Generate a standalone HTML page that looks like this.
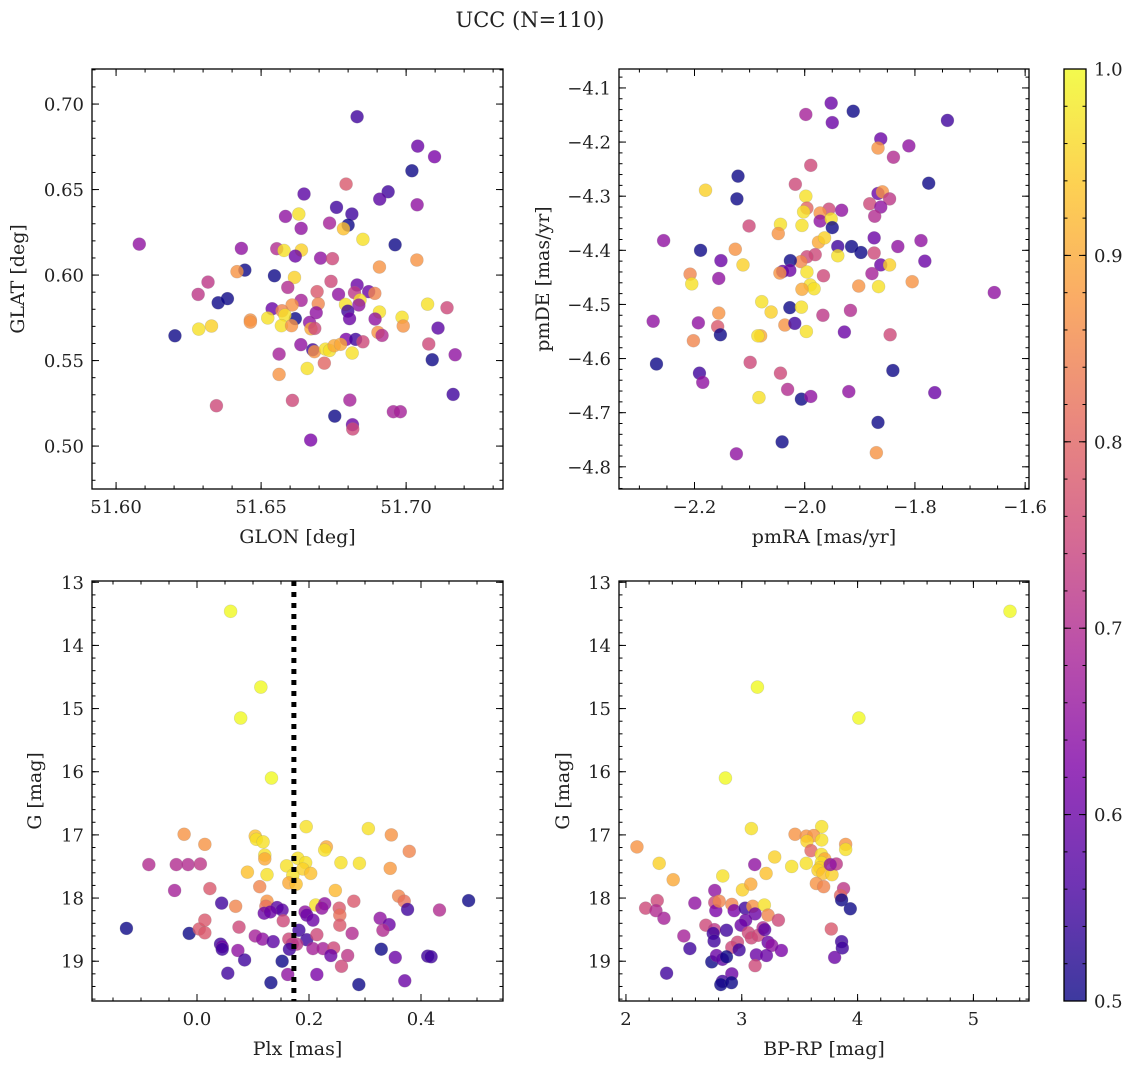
<!DOCTYPE html>
<html><head><meta charset="utf-8"><title>UCC (N=110)</title>
<style>
html,body{margin:0;padding:0;background:#fff;}
svg{display:block;font-family:"DejaVu Serif","Liberation Serif",serif;}
</style></head>
<body>
<svg id="chart" width="1136" height="1068" viewBox="0 0 1136 1068" xmlns="http://www.w3.org/2000/svg">
<defs>
<linearGradient id="plasma" x1="0" y1="1" x2="0" y2="0">
<stop offset="0" stop-color="#0d0887"/><stop offset="0.125" stop-color="#4c02a1"/>
<stop offset="0.25" stop-color="#7e03a8"/><stop offset="0.375" stop-color="#a92395"/>
<stop offset="0.5" stop-color="#cc4778"/><stop offset="0.625" stop-color="#e56b5d"/>
<stop offset="0.75" stop-color="#f89540"/><stop offset="0.875" stop-color="#fdc527"/>
<stop offset="1" stop-color="#f0f921"/></linearGradient>
</defs>
<text x="530" y="27" font-size="21" text-anchor="middle" fill="#222">UCC (N=110)</text>
</svg>
<script>
// ---- Panel 1: GLON vs GLAT ----
const glonP1 = [51.6831,51.7040,51.7098,51.7020,51.6793,51.6648,51.6938,51.6909,51.7038,51.6760,51.6813,51.6584,51.6630,51.6800,51.6784,51.6736,51.6638,51.6851,51.6962,51.6080,51.6432,51.6554,51.6579,51.6639,51.6618,51.6705,51.6746,51.7037,51.6908,51.6444,51.6417,51.6546,51.6615,51.6317,51.6283,51.6592,51.6741,51.6831,51.6693,51.6767,51.6822,51.6871,51.6892,51.6352,51.6384,51.6638,51.6697,51.6607,51.6791,51.6841,51.6837,51.7074,51.7141,51.6538,51.6572,51.6690,51.6799,51.6908,51.6893,51.6805,51.6618,51.6582,51.6523,51.6986,51.6463,51.6463,51.6570,51.6605,51.6667,51.6672,51.6685,51.6990,51.7110,51.6285,51.6329,51.6203,51.6903,51.6917,51.6793,51.6826,51.6851,51.6637,51.6678,51.6684,51.6722,51.6736,51.6752,51.6774,51.6814,51.7078,51.6562,51.7090,51.7169,51.6718,51.6659,51.6562,51.7162,51.6608,51.6806,51.6346,51.6956,51.6980,51.6754,51.6815,51.6816,51.6671];
const glatP1 = [0.6926,0.6754,0.6692,0.6610,0.6532,0.6474,0.6487,0.6444,0.6411,0.6396,0.6357,0.6343,0.6357,0.6292,0.6271,0.6304,0.6273,0.6209,0.6177,0.6181,0.6156,0.6154,0.6144,0.6146,0.6111,0.6099,0.6096,0.6088,0.6047,0.6029,0.6020,0.5996,0.5986,0.5959,0.5887,0.5928,0.5963,0.5942,0.5903,0.5887,0.5897,0.5903,0.5893,0.5838,0.5862,0.5852,0.5832,0.5825,0.5828,0.5854,0.5825,0.5830,0.5809,0.5803,0.5791,0.5780,0.5789,0.5784,0.5743,0.5745,0.5745,0.5766,0.5749,0.5753,0.5737,0.5725,0.5704,0.5704,0.5723,0.5686,0.5688,0.5702,0.5690,0.5684,0.5702,0.5645,0.5665,0.5647,0.5624,0.5624,0.5610,0.5593,0.5563,0.5552,0.5567,0.5559,0.5587,0.5595,0.5544,0.5597,0.5538,0.5505,0.5534,0.5485,0.5454,0.5419,0.5302,0.5267,0.5269,0.5236,0.5201,0.5201,0.5175,0.5125,0.5100,0.5035];
const probP1 = [0.55,0.6,0.62,0.5,0.78,0.58,0.55,0.58,0.65,0.55,0.55,0.65,0.97,0.5,0.93,0.68,0.65,0.97,0.5,0.65,0.65,0.7,0.97,0.95,0.6,0.65,0.75,0.87,0.87,0.5,0.87,0.5,0.95,0.72,0.72,0.7,0.75,0.6,0.78,0.65,0.72,0.6,0.85,0.5,0.5,0.68,0.85,0.87,0.97,0.97,0.65,0.97,0.75,0.6,0.85,0.65,0.55,0.97,0.65,0.6,0.5,0.97,0.97,0.97,0.87,0.87,0.97,0.87,0.65,0.9,0.75,0.87,0.58,0.97,0.95,0.5,0.87,0.7,0.62,0.55,0.75,0.65,0.55,0.87,0.97,0.97,0.9,0.9,0.97,0.75,0.68,0.5,0.65,0.8,0.97,0.87,0.55,0.75,0.68,0.75,0.68,0.68,0.5,0.6,0.75,0.62];

// ---- Panel 2: pmRA vs pmDE ----
const pmraP2 = [-1.952,-1.998,-1.950,-1.912,-1.741,-1.862,-1.867,-1.811,-1.839,-1.989,-2.121,-1.775,-2.180,-2.017,-2.123,-1.998,-1.867,-1.859,-1.846,-1.996,-2.002,-1.956,-1.972,-1.972,-1.952,-1.933,-1.882,-1.862,-1.873,-1.950,-2.005,-2.044,-2.048,-2.101,-2.256,-2.189,-2.126,-2.152,-2.112,-2.156,-2.208,-2.205,-1.975,-1.964,-1.940,-1.915,-1.898,-1.874,-1.874,-1.831,-1.789,-1.782,-1.862,-1.846,-1.981,-1.996,-2.007,-1.940,-2.026,-2.027,-2.040,-2.045,-1.996,-1.966,-1.878,-1.990,-1.983,-2.005,-1.902,-1.866,-1.805,-1.656,-2.078,-2.061,-2.027,-2.006,-1.967,-1.917,-2.156,-2.193,-2.275,-2.158,-2.153,-2.202,-2.036,-2.018,-1.997,-2.080,-2.085,-1.928,-1.845,-2.269,-2.191,-2.185,-2.099,-2.044,-2.031,-2.083,-2.006,-1.989,-1.920,-1.840,-1.764,-1.867,-2.041,-2.124,-1.870];
const pmdeP2 = [-4.128,-4.149,-4.164,-4.143,-4.160,-4.194,-4.211,-4.207,-4.228,-4.243,-4.263,-4.276,-4.289,-4.278,-4.305,-4.300,-4.295,-4.292,-4.305,-4.322,-4.329,-4.324,-4.331,-4.346,-4.342,-4.326,-4.314,-4.320,-4.337,-4.358,-4.354,-4.352,-4.369,-4.355,-4.382,-4.400,-4.398,-4.419,-4.427,-4.452,-4.444,-4.462,-4.385,-4.377,-4.393,-4.393,-4.404,-4.377,-4.405,-4.393,-4.382,-4.420,-4.427,-4.427,-4.408,-4.412,-4.421,-4.410,-4.419,-4.437,-4.439,-4.442,-4.440,-4.447,-4.443,-4.464,-4.471,-4.472,-4.466,-4.467,-4.458,-4.478,-4.495,-4.514,-4.506,-4.505,-4.520,-4.511,-4.516,-4.534,-4.531,-4.541,-4.556,-4.567,-4.538,-4.535,-4.550,-4.558,-4.558,-4.551,-4.556,-4.610,-4.627,-4.644,-4.607,-4.627,-4.657,-4.672,-4.675,-4.670,-4.661,-4.622,-4.663,-4.718,-4.754,-4.776,-4.774];
const probP2 = [0.6,0.68,0.6,0.5,0.55,0.6,0.87,0.65,0.7,0.75,0.5,0.5,0.95,0.75,0.5,0.97,0.6,0.87,0.72,0.8,0.97,0.75,0.87,0.65,0.97,0.65,0.75,0.65,0.7,0.5,0.97,0.97,0.87,0.75,0.65,0.5,0.87,0.6,0.95,0.65,0.85,0.97,0.9,0.95,0.55,0.5,0.5,0.6,0.75,0.65,0.65,0.6,0.6,0.95,0.75,0.75,0.85,0.97,0.5,0.6,0.6,0.87,0.97,0.75,0.68,0.97,0.97,0.9,0.87,0.97,0.87,0.65,0.97,0.95,0.5,0.97,0.72,0.7,0.87,0.65,0.65,0.78,0.5,0.85,0.87,0.55,0.97,0.9,0.97,0.6,0.75,0.5,0.55,0.65,0.75,0.75,0.7,0.97,0.5,0.65,0.65,0.5,0.6,0.5,0.5,0.65,0.87];

// ---- Panel 3: Plx vs G ----
const plxP3 = [0.060,0.114,0.078,0.133,0.195,0.306,-0.023,0.347,0.014,0.104,0.106,0.118,0.231,0.228,0.379,-0.086,-0.037,-0.016,0.006,0.121,0.121,0.160,0.180,0.194,0.189,0.203,0.257,0.290,0.345,0.090,0.125,0.171,0.164,0.177,0.112,0.247,-0.040,0.023,0.360,0.370,0.485,0.044,0.069,0.125,0.123,0.212,0.228,0.223,0.280,0.254,0.376,0.433,0.143,0.152,0.120,0.131,0.193,0.196,0.207,0.154,0.255,0.255,0.327,0.343,0.332,-0.126,-0.014,0.004,0.014,0.014,0.075,0.104,0.117,0.136,0.182,0.196,0.214,0.164,0.170,0.178,0.165,0.207,0.225,0.244,0.277,0.042,0.045,0.045,0.073,0.085,0.152,0.239,0.269,0.258,0.329,0.354,0.412,0.418,0.055,0.162,0.214,0.132,0.289,0.371];
const gP3 = [13.46,14.66,15.15,16.10,16.87,16.90,16.99,17.00,17.15,17.02,17.07,17.11,17.19,17.24,17.26,17.47,17.47,17.47,17.46,17.32,17.38,17.49,17.37,17.44,17.54,17.61,17.44,17.45,17.53,17.59,17.63,17.64,17.76,17.78,17.82,17.88,17.88,17.85,17.97,18.05,18.04,18.08,18.13,18.05,18.13,18.11,18.09,18.16,18.05,18.16,18.18,18.19,18.15,18.19,18.24,18.22,18.22,18.27,18.35,18.36,18.27,18.43,18.32,18.42,18.51,18.48,18.56,18.49,18.35,18.55,18.46,18.60,18.65,18.69,18.51,18.66,18.58,18.65,18.73,18.73,18.81,18.80,18.80,18.79,18.56,18.73,18.77,18.81,18.83,18.98,19.00,18.91,18.91,19.08,18.81,18.94,18.92,18.93,19.19,19.21,19.21,19.34,19.37,19.31];
const probP3 = [1.0,1.0,1.0,1.0,0.97,0.97,0.87,0.87,0.87,0.93,0.97,0.97,0.9,0.97,0.85,0.7,0.7,0.7,0.72,0.97,0.9,0.97,0.97,0.97,0.95,0.93,0.97,0.97,0.88,0.93,0.97,0.97,0.9,0.93,0.85,0.92,0.68,0.78,0.85,0.82,0.5,0.55,0.85,0.87,0.82,0.97,0.65,0.65,0.78,0.78,0.55,0.7,0.58,0.58,0.6,0.6,0.65,0.6,0.6,0.75,0.82,0.78,0.65,0.6,0.7,0.5,0.5,0.78,0.78,0.78,0.75,0.68,0.65,0.58,0.55,0.55,0.75,0.75,0.72,0.72,0.55,0.68,0.68,0.75,0.7,0.55,0.6,0.55,0.65,0.55,0.5,0.6,0.72,0.75,0.5,0.6,0.55,0.55,0.55,0.65,0.62,0.5,0.5,0.6];
const plxCut = 0.173;

// ---- Panel 4: BP-RP vs G ----
const bprpP4 = [5.316,3.135,4.011,2.859,3.690,3.083,2.095,3.460,3.557,3.621,3.563,3.690,3.897,3.897,3.598,2.287,3.284,3.687,3.716,3.112,3.431,3.557,3.687,3.675,3.658,3.701,3.779,3.816,3.764,2.408,2.836,3.210,3.006,3.078,3.644,3.707,3.879,3.853,3.862,3.937,2.767,2.170,2.270,2.259,2.328,2.595,2.767,2.776,2.805,2.914,2.934,3.029,3.095,3.195,3.115,3.227,3.316,3.034,2.994,2.690,2.764,2.753,2.868,2.761,2.500,2.552,2.351,3.057,3.083,3.141,3.184,3.198,3.227,3.259,3.342,2.963,2.914,2.977,2.741,2.782,2.833,2.868,3.126,3.213,3.115,2.914,2.833,2.819,2.911,3.773,3.862,3.868,3.802];
const gP4 = [13.46,14.66,15.15,16.10,16.87,16.90,17.19,16.99,17.02,17.01,17.10,17.08,17.15,17.23,17.25,17.45,17.35,17.31,17.38,17.47,17.50,17.45,17.44,17.52,17.56,17.61,17.63,17.46,17.47,17.71,17.65,17.61,17.87,17.78,17.77,17.82,17.85,17.96,18.03,18.17,17.88,18.16,18.04,18.20,18.32,18.08,18.07,18.20,18.05,18.10,18.20,18.16,18.13,18.11,18.25,18.27,18.35,18.35,18.43,18.43,18.50,18.56,18.51,18.68,18.60,18.80,19.19,18.55,18.63,18.59,18.47,18.50,18.70,18.75,18.83,18.70,18.78,18.82,19.01,18.91,18.97,18.93,18.90,18.91,19.07,19.20,19.32,19.37,19.34,18.49,18.69,18.79,18.94];
const probP4 = [1.0,1.0,1.0,1.0,0.97,0.97,0.87,0.87,0.87,0.87,0.95,0.97,0.87,0.97,0.8,0.95,0.95,0.97,0.9,0.65,0.97,0.97,0.97,0.95,0.95,0.93,0.95,0.72,0.65,0.9,0.97,0.93,0.95,0.9,0.87,0.85,0.72,0.8,0.5,0.5,0.65,0.75,0.75,0.7,0.68,0.65,0.75,0.62,0.85,0.85,0.62,0.55,0.87,0.97,0.6,0.85,0.75,0.6,0.6,0.75,0.72,0.55,0.55,0.55,0.68,0.55,0.55,0.75,0.75,0.75,0.7,0.58,0.6,0.65,0.62,0.75,0.75,0.55,0.5,0.6,0.58,0.5,0.6,0.6,0.75,0.6,0.55,0.5,0.5,0.78,0.55,0.55,0.6];

// ---- Colorbar ----
const cbarTicks = [0.5,0.6,0.7,0.8,0.9,1.0];
const cbarTickLabels = ["0.5","0.6","0.7","0.8","0.9","1.0"];

const NS = "http://www.w3.org/2000/svg";
const svg = document.getElementById("chart");
function mk(tag, attrs, parent){
  const e = document.createElementNS(NS, tag);
  for (const k in attrs) e.setAttribute(k, attrs[k]);
  (parent || svg).appendChild(e);
  return e;
}
const plasmaStops = [[13,8,135],[76,2,161],[126,3,168],[169,35,149],[204,71,120],[229,107,93],[248,149,64],[253,197,39],[240,249,33]];
function plasma(t){
  t = Math.max(0, Math.min(1, t)) * 8;
  const i = Math.min(7, Math.floor(t)), f = t - i;
  const a = plasmaStops[i], b = plasmaStops[i+1];
  return "rgb(" + [0,1,2].map(k => Math.round(a[k] + (b[k]-a[k]) * f)).join(",") + ")";
}
function probColor(p){ return plasma((p - 0.5) / 0.5); }
function scale(d0, d1, r0, r1){ return v => r0 + (v - d0) / (d1 - d0) * (r1 - r0); }
function fmt(v, dec){ const s = v.toFixed(dec); return v < 0 ? "\u2212" + s.slice(1) : s; }

const TICKFS = 18, LABFS = 19;

function panel(cfg){
  const g = mk("g", {});
  
  
  const X = scale(cfg.xd[0], cfg.xd[1], cfg.x0, cfg.x1);
  const Y = scale(cfg.yd[0], cfg.yd[1], cfg.y0, cfg.y1);
  const tg = mk("g", {stroke:"#000","stroke-width":1}, g);
  
  
  const eps = 1e-9;
  function ticks(d, step, fn){
    const lo = Math.min(d[0], d[1]), hi = Math.max(d[0], d[1]);
    for (let v = Math.ceil(lo/step - eps) * step; v <= hi + eps; v += step) fn(Math.round(v/step)*step);
  }
  ticks(cfg.xd, cfg.xminor, v => { const x = X(v);
    mk("line", {x1:x, x2:x, y1:cfg.y1, y2:cfg.y1-3.5}, tg); mk("line", {x1:x, x2:x, y1:cfg.y0, y2:cfg.y0+3.5}, tg); });
  ticks(cfg.yd, cfg.yminor, v => { const y = Y(v);
    mk("line", {x1:cfg.x0, x2:cfg.x0+3.5, y1:y, y2:y}, tg); mk("line", {x1:cfg.x1, x2:cfg.x1-3.5, y1:y, y2:y}, tg); });
  ticks(cfg.xd, cfg.xmajor, v => { const x = X(v);
    mk("line", {x1:x, x2:x, y1:cfg.y1, y2:cfg.y1-7}, tg); mk("line", {x1:x, x2:x, y1:cfg.y0, y2:cfg.y0+7}, tg);
    const t = mk("text", {x:x, y:cfg.y1+24, "font-size":TICKFS, "text-anchor":"middle", stroke:"none", fill:"#222"}, g);
    
    
    t.textContent = fmt(v, cfg.xdec); });
  ticks(cfg.yd, cfg.ymajor, v => { const y = Y(v);
    mk("line", {x1:cfg.x0, x2:cfg.x0+7, y1:y, y2:y}, tg); mk("line", {x1:cfg.x1, x2:cfg.x1-7, y1:y, y2:y}, tg);
    const t = mk("text", {x:cfg.x0-8, y:y+6.5, "font-size":TICKFS, "text-anchor":"end", stroke:"none", fill:"#222"}, g);
    
    
    t.textContent = fmt(v, cfg.ydec); });
  const pg = mk("g", {}, g);
  
  
  for (let i = 0; i < cfg.xs.length; i++){
    const c = mk("circle", {cx:X(cfg.xs[i]), cy:Y(cfg.ys[i]), r:6.5, fill:probColor(cfg.ps[i]), "fill-opacity":0.8, stroke:"#888", "stroke-opacity":0.3, "stroke-width":0.6}, pg);
    
    
  }
  if (cfg.vline !== undefined){
    const l = mk("line", {x1:X(cfg.vline), x2:X(cfg.vline), y1:cfg.y0, y2:cfg.y1, stroke:"#000", "stroke-width":5, "stroke-dasharray":"5,6"}, g);
    
    
  }
  const fr = mk("rect", {x:cfg.x0, y:cfg.y0, width:cfg.x1-cfg.x0, height:cfg.y1-cfg.y0, fill:"none", stroke:"#000", "stroke-width":1.3}, g);
  
  
  const xl = mk("text", {x:(cfg.x0+cfg.x1)/2, y:cfg.y1+54, "font-size":LABFS, "text-anchor":"middle", fill:"#222"}, g);
  
  
  xl.textContent = cfg.xlabel;
  const ym = (cfg.y0+cfg.y1)/2;
  const yl = mk("text", {x:cfg.ylx, y:ym, "font-size":LABFS, "text-anchor":"middle", fill:"#222", transform:"rotate(-90 "+cfg.ylx+" "+ym+")"}, g);
  
  
  yl.textContent = cfg.ylabel;
}

panel({name:"glon-glat-panel", x0:92, x1:503, y0:69, y1:489, xd:[51.5917,51.7334], yd:[0.7205,0.4749],
  xmajor:0.05, xminor:0.01, ymajor:0.05, yminor:0.01, xdec:2, ydec:2,
  xs:glonP1, ys:glatP1, ps:probP1, xlabel:"GLON [deg]", ylabel:"GLAT [deg]", ylx:24});
panel({name:"pm-panel", x0:619, x1:1029, y0:69, y1:489, xd:[-2.337,-1.593], yd:[-4.065,-4.841],
  xmajor:0.2, xminor:0.05, ymajor:0.1, yminor:0.02, xdec:1, ydec:1,
  xs:pmraP2, ys:pmdeP2, ps:probP2, xlabel:"pmRA [mas/yr]", ylabel:"pmDE [mas/yr]", ylx:549});
panel({name:"plx-g-panel", x0:92, x1:503, y0:581, y1:1001, xd:[-0.1875,0.5464], yd:[12.98,19.63],
  xmajor:0.2, xminor:0.05, ymajor:1, yminor:0.2, xdec:1, ydec:0,
  xs:plxP3, ys:gP3, ps:probP3, xlabel:"Plx [mas]", ylabel:"G [mag]", ylx:41, vline:plxCut});
panel({name:"cmd-panel", x0:619, x1:1029, y0:581, y1:1001, xd:[1.94,5.48], yd:[12.98,19.63],
  xmajor:1, xminor:0.2, ymajor:1, yminor:0.2, xdec:0, ydec:0,
  xs:bprpP4, ys:gP4, ps:probP4, xlabel:"BP-RP [mag]", ylabel:"G [mag]", ylx:569});

(function(){
  const cx0 = 1064, cx1 = 1086, cy0 = 69, cy1 = 1001;
  const g = mk("g", {});
  
  
  const r = mk("rect", {x:cx0, y:cy0, width:cx1-cx0, height:cy1-cy0, fill:"url(#plasma)", "fill-opacity":0.8}, g);
  
  
  mk("rect", {x:cx0, y:cy0, width:cx1-cx0, height:cy1-cy0, fill:"none", stroke:"#000", "stroke-width":1.3}, g);
  const Y = scale(0.5, 1.0, cy1, cy0);
  for (let v = 0.52; v < 1.0; v += 0.02){
    const y = Y(v);
    mk("line", {x1:cx1, x2:cx1-3.5, y1:y, y2:y, stroke:"#000", "stroke-width":1}, g);
    mk("line", {x1:cx0, x2:cx0+3.5, y1:y, y2:y, stroke:"#000", "stroke-width":1}, g);
  }
  cbarTicks.forEach((v, i) => {
    const y = Y(v);
    mk("line", {x1:cx1, x2:cx1-7, y1:y, y2:y, stroke:"#000", "stroke-width":1}, g);
    mk("line", {x1:cx0, x2:cx0+7, y1:y, y2:y, stroke:"#000", "stroke-width":1}, g);
    const t = mk("text", {x:cx1+8, y:y+6.5, "font-size":TICKFS, fill:"#222"}, g);
    
    
    t.textContent = cbarTickLabels[i];
  });
})();
</script>
</body></html>
